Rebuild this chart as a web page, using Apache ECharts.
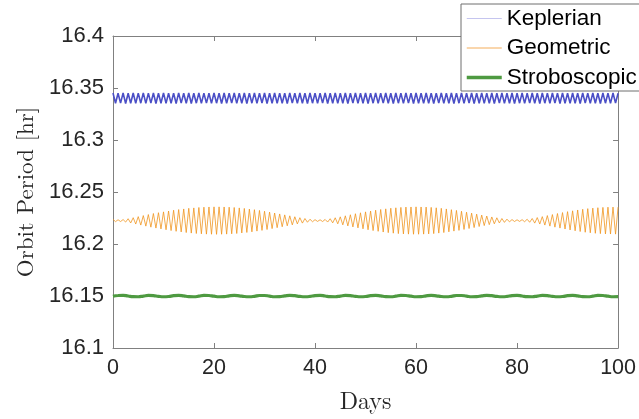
<!DOCTYPE html>
<html>
<head>
<meta charset="utf-8">
<script src="https://cdn.jsdelivr.net/npm/echarts@6/dist/echarts.min.js"></script>
<style>
  html, body { margin: 0; padding: 0; background: #fff; }
  #chart { width: 639px; height: 419px; }
</style>
</head>
<body>
<div id="chart"></div>
<script>
// sample spacing (days) of the three traces
var fastStep = 0.5;   // Keplerian + Geometric
var slowStep = 1;     // Stroboscopic

var xTicks = [0, 20, 40, 60, 80, 100];
var yTicks = [16.1, 16.15, 16.2, 16.25, 16.3, 16.35, 16.4];

// Keplerian period [hr], one value every half day
var keplerian = [
  16.3452, 16.3353, 16.3450, 16.3355, 16.3453, 16.3351, 16.3449, 16.3354, 16.3452, 16.3352,
  16.3451, 16.3354, 16.3453, 16.3352, 16.3449, 16.3355, 16.3452, 16.3351, 16.3450, 16.3353,
  16.3453, 16.3352, 16.3450, 16.3354, 16.3451, 16.3351, 16.3453, 16.3355, 16.3449, 16.3353,
  16.3452, 16.3351, 16.3450, 16.3354, 16.3453, 16.3352, 16.3451, 16.3355, 16.3449, 16.3352,
  16.3453, 16.3354, 16.3450, 16.3351, 16.3452, 16.3353, 16.3449, 16.3355, 16.3453, 16.3352,
  16.3450, 16.3353, 16.3452, 16.3351, 16.3451, 16.3354, 16.3453, 16.3352, 16.3449, 16.3355,
  16.3452, 16.3351, 16.3450, 16.3353, 16.3453, 16.3352, 16.3451, 16.3354, 16.3450, 16.3351,
  16.3453, 16.3355, 16.3449, 16.3352, 16.3452, 16.3353, 16.3450, 16.3351, 16.3453, 16.3354,
  16.3451, 16.3352, 16.3449, 16.3355, 16.3452, 16.3351, 16.3450, 16.3353, 16.3453, 16.3352,
  16.3451, 16.3354, 16.3452, 16.3351, 16.3449, 16.3355, 16.3453, 16.3352, 16.3450, 16.3353,
  16.3452, 16.3351, 16.3451, 16.3354, 16.3453, 16.3352, 16.3449, 16.3355, 16.3452, 16.3353,
  16.3450, 16.3351, 16.3453, 16.3354, 16.3451, 16.3352, 16.3452, 16.3355, 16.3449, 16.3351,
  16.3453, 16.3353, 16.3450, 16.3352, 16.3452, 16.3354, 16.3451, 16.3351, 16.3449, 16.3355,
  16.3453, 16.3352, 16.3450, 16.3353, 16.3452, 16.3351, 16.3451, 16.3354, 16.3453, 16.3352,
  16.3449, 16.3355, 16.3452, 16.3351, 16.3450, 16.3353, 16.3453, 16.3352, 16.3451, 16.3354,
  16.3452, 16.3351, 16.3449, 16.3355, 16.3453, 16.3352, 16.3450, 16.3353, 16.3452, 16.3351,
  16.3451, 16.3354, 16.3453, 16.3352, 16.3449, 16.3355, 16.3452, 16.3353, 16.3450, 16.3351,
  16.3453, 16.3354, 16.3451, 16.3352, 16.3452, 16.3355, 16.3449, 16.3351, 16.3453, 16.3353,
  16.3450, 16.3352, 16.3452, 16.3354, 16.3451, 16.3351, 16.3453, 16.3355, 16.3449, 16.3352,
  16.3452, 16.3353, 16.3450, 16.3351, 16.3453, 16.3354, 16.3451, 16.3352, 16.3452, 16.3355,
  16.3450
];

// Geometric period [hr], one value every half day
var geometric = [
  16.2237, 16.2215, 16.2233, 16.2216, 16.2235, 16.2211, 16.2243, 16.2202, 16.2253, 16.2192,
  16.2263, 16.2182, 16.2273, 16.2172, 16.2283, 16.2162, 16.2293, 16.2153, 16.2301, 16.2145,
  16.2309, 16.2137, 16.2317, 16.2129, 16.2325, 16.2122, 16.2331, 16.2116, 16.2337, 16.2110,
  16.2343, 16.2105, 16.2347, 16.2101, 16.2351, 16.2098, 16.2354, 16.2095, 16.2356, 16.2094,
  16.2357, 16.2093, 16.2357, 16.2094, 16.2356, 16.2095, 16.2354, 16.2098, 16.2351, 16.2101,
  16.2347, 16.2106, 16.2342, 16.2111, 16.2336, 16.2117, 16.2330, 16.2124, 16.2323, 16.2131,
  16.2315, 16.2139, 16.2307, 16.2148, 16.2298, 16.2157, 16.2289, 16.2166, 16.2280, 16.2175,
  16.2271, 16.2184, 16.2262, 16.2193, 16.2253, 16.2201, 16.2245, 16.2209, 16.2238, 16.2214,
  16.2234, 16.2217, 16.2233, 16.2216, 16.2236, 16.2211, 16.2243, 16.2203, 16.2252, 16.2194,
  16.2261, 16.2184, 16.2271, 16.2174, 16.2281, 16.2164, 16.2291, 16.2155, 16.2300, 16.2146,
  16.2309, 16.2137, 16.2317, 16.2129, 16.2325, 16.2122, 16.2332, 16.2115, 16.2338, 16.2109,
  16.2344, 16.2104, 16.2348, 16.2100, 16.2352, 16.2097, 16.2355, 16.2095, 16.2356, 16.2094,
  16.2357, 16.2094, 16.2356, 16.2095, 16.2355, 16.2097, 16.2352, 16.2100, 16.2348, 16.2105,
  16.2343, 16.2110, 16.2337, 16.2117, 16.2330, 16.2124, 16.2323, 16.2131, 16.2315, 16.2140,
  16.2306, 16.2149, 16.2297, 16.2158, 16.2287, 16.2168, 16.2278, 16.2177, 16.2269, 16.2186,
  16.2260, 16.2194, 16.2252, 16.2202, 16.2245, 16.2208, 16.2239, 16.2213, 16.2235, 16.2216,
  16.2233, 16.2217, 16.2234, 16.2214, 16.2238, 16.2209, 16.2245, 16.2201, 16.2254, 16.2192,
  16.2263, 16.2182, 16.2273, 16.2172, 16.2283, 16.2162, 16.2293, 16.2153, 16.2302, 16.2144,
  16.2311, 16.2135, 16.2319, 16.2127, 16.2327, 16.2120, 16.2334, 16.2113, 16.2340, 16.2108,
  16.2345, 16.2103, 16.2349, 16.2100, 16.2352, 16.2097, 16.2354, 16.2096, 16.2355, 16.2095,
  16.2355
];

// Stroboscopic period [hr], one value per day
var stroboscopic = [
  16.1497, 16.1505, 16.1506, 16.1500, 16.1494, 16.1493, 16.1499, 16.1506, 16.1504, 16.1497,
  16.1493, 16.1495, 16.1503, 16.1506, 16.1501, 16.1494, 16.1493, 16.1498, 16.1506, 16.1505,
  16.1498, 16.1493, 16.1494, 16.1502, 16.1506, 16.1502, 16.1495, 16.1493, 16.1497, 16.1505,
  16.1505, 16.1499, 16.1493, 16.1494, 16.1501, 16.1506, 16.1503, 16.1496, 16.1493, 16.1496,
  16.1504, 16.1506, 16.1500, 16.1494, 16.1493, 16.1499, 16.1506, 16.1504, 16.1497, 16.1493,
  16.1495, 16.1503, 16.1506, 16.1501, 16.1494, 16.1493, 16.1498, 16.1506, 16.1505, 16.1498,
  16.1493, 16.1494, 16.1502, 16.1506, 16.1502, 16.1495, 16.1493, 16.1497, 16.1505, 16.1505,
  16.1499, 16.1493, 16.1494, 16.1501, 16.1506, 16.1503, 16.1496, 16.1493, 16.1496, 16.1504,
  16.1506, 16.1500, 16.1494, 16.1493, 16.1499, 16.1506, 16.1504, 16.1497, 16.1493, 16.1495,
  16.1503, 16.1506, 16.1501, 16.1494, 16.1493, 16.1498, 16.1506, 16.1505, 16.1498, 16.1493,
  16.1494
];

function pairs(values, step) {
  return values.map(function (v, i) { return [i * step, v]; });
}

var axisGrey = '#808080';
var labelFont = 'Helvetica, Arial, "Liberation Sans", sans-serif';
var serifFont = '"Latin Modern Roman", "CMU Serif", "Liberation Serif", "DejaVu Serif", serif';

var chart = echarts.init(document.getElementById('chart'));

function boxAxis(base, pos) {
  return Object.assign({
    position: pos,
    axisLine: { show: true, onZero: false, lineStyle: { color: axisGrey, width: 1 } },
    axisTick: { show: true, inside: true, length: 5, lineStyle: { color: axisGrey } },
    splitLine: { show: false },
    axisLabel: { show: false }
  }, base);
}

var xBase = { type: 'value', min: xTicks[0], max: xTicks[xTicks.length - 1], interval: 20 };
var yBase = { type: 'value', min: yTicks[0], max: yTicks[yTicks.length - 1], interval: 0.05 };

// legend shows only the line sample, no marker
var noMarker = { opacity: 0 };

var option = {
  animation: false,
  backgroundColor: '#fff',
  grid: { left: 113, right: 20, top: 36, bottom: 67 },
  legend: {
    orient: 'vertical',
    left: 461,
    top: 4,
    padding: [3, 90, 2, 4],
    itemWidth: 35,
    itemHeight: 14,
    itemGap: 6.5,
    backgroundColor: '#fff',
    borderColor: '#6e6e6e',
    borderWidth: 1,
    borderRadius: 0,
    z: 10,
    textStyle: { fontFamily: labelFont, fontSize: 22.5, lineHeight: 21.5, color: '#000' },
    data: [
      { name: 'Keplerian', itemStyle: noMarker, lineStyle: { color: '#c5c5ef', width: 1 } },
      { name: 'Geometric', itemStyle: noMarker, lineStyle: { color: '#f4ad5a', width: 1 } },
      { name: 'Stroboscopic', itemStyle: noMarker, lineStyle: { color: '#4e9a41', width: 3.5 } }
    ]
  },
  xAxis: [
    boxAxis(Object.assign({
      name: 'Days',
      nameLocation: 'middle',
      nameGap: 42,
      nameTextStyle: { fontFamily: serifFont, fontSize: 24, color: '#262626' },
      axisLabel: {
        show: true, margin: 9, fontSize: 21.5, color: '#262626', fontFamily: labelFont
      }
    }, xBase), 'bottom'),
    boxAxis(Object.assign({}, xBase), 'top')
  ],
  yAxis: [
    boxAxis(Object.assign({
      name: 'Orbit Period [hr]',
      nameLocation: 'middle',
      nameGap: 76,
      nameTextStyle: { fontFamily: serifFont, fontSize: 23, color: '#262626' },
      axisLabel: {
        show: true, margin: 9, fontSize: 22, color: '#262626', fontFamily: labelFont,
        formatter: function (v) { return String(+v.toFixed(2)); }
      }
    }, yBase), 'left'),
    boxAxis(Object.assign({}, yBase), 'right')
  ],
  series: [
    {
      name: 'Keplerian', type: 'line', symbol: 'none',
      xAxisIndex: 0, yAxisIndex: 0,
      lineStyle: { color: '#4b4fc6', width: 1.6 },
      itemStyle: { color: '#4b4fc6' },
      data: pairs(keplerian, fastStep)
    },
    {
      name: 'Geometric', type: 'line', symbol: 'none',
      xAxisIndex: 0, yAxisIndex: 0,
      lineStyle: { color: '#f0961f', width: 0.8 },
      itemStyle: { color: '#f0961f' },
      data: pairs(geometric, fastStep)
    },
    {
      name: 'Stroboscopic', type: 'line', symbol: 'none', smooth: true,
      xAxisIndex: 0, yAxisIndex: 0,
      lineStyle: { color: '#4e9a41', width: 3.2 },
      itemStyle: { color: '#4e9a41' },
      data: pairs(stroboscopic, slowStep)
    }
  ]
};

chart.setOption(option);
</script>
</body>
</html>
